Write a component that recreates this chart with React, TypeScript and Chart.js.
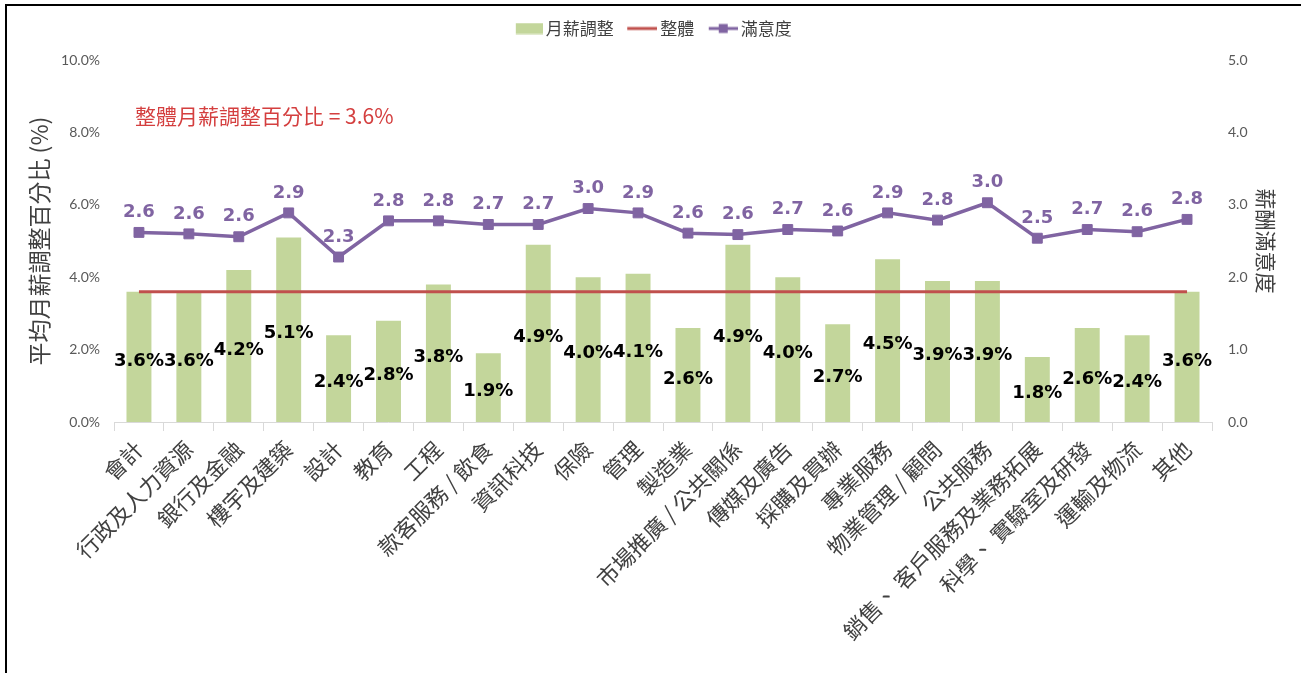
import { useEffect, useRef } from 'react';
import { Chart, registerables } from 'chart.js';

Chart.register(...registerables);

const categories = [
  '會計',
  '行政及人力資源',
  '銀行及金融',
  '樓宇及建築',
  '設計',
  '教育',
  '工程',
  '款客服務 / 飲食',
  '資訊科技',
  '保險',
  '管理',
  '製造業',
  '市場推廣 / 公共關係',
  '傳媒及廣告',
  '採購及買辦',
  '專業服務',
  '物業管理 / 顧問',
  '公共服務',
  '銷售、 客戶服務及業務拓展',
  '科學、 實驗室及研發',
  '運輸及物流',
  '其他',
];

// 月薪調整 (%)
const salaryAdjust = [3.6, 3.6, 4.2, 5.1, 2.4, 2.8, 3.8, 1.9, 4.9, 4.0, 4.1, 2.6, 4.9, 4.0, 2.7, 4.5, 3.9, 3.9, 1.8, 2.6, 2.4, 3.6];

// 整體 (%)
const overallAdjust = 3.6;
const overallLine = [3.6, 3.6, 3.6, 3.6, 3.6, 3.6, 3.6, 3.6, 3.6, 3.6, 3.6, 3.6, 3.6, 3.6, 3.6, 3.6, 3.6, 3.6, 3.6, 3.6, 3.6, 3.6];

// 滿意度 (0-5)
const satisfaction = [2.62, 2.6, 2.56, 2.89, 2.28, 2.78, 2.78, 2.73, 2.73, 2.95, 2.89, 2.61, 2.59, 2.66, 2.64, 2.89, 2.79, 3.03, 2.54, 2.66, 2.63, 2.8];

const legendLabels = ['月薪調整', '整體', '滿意度'];
const leftAxisTitle = '平均月薪調整百分比 (%)';
const rightAxisTitle = '薪酬滿意度';
const annotationLabel = '整體月薪調整百分比';

const GREEN = '#C3D69B';
const RED = '#C0504D';
const PURPLE = '#8064A2';
const CJK = "'Noto Sans CJK TC', 'Noto Sans CJK SC', sans-serif";

function makeIcon(kind: 'bar' | 'line' | 'marker'): HTMLCanvasElement {
  const c = document.createElement('canvas');
  c.width = 37;
  c.height = 12;
  const g = c.getContext('2d')!;
  if (kind === 'bar') {
    g.fillStyle = GREEN;
    g.fillRect(10, 0.5, 27, 11);
  } else if (kind === 'line') {
    g.fillStyle = RED;
    g.fillRect(7, 4.5, 30, 3);
  } else {
    g.fillStyle = PURPLE;
    g.fillRect(8, 4.5, 29, 3);
    g.fillRect(18, 1.5, 9, 9);
  }
  return c;
}

const extrasPlugin = {
  id: 'extras',
  afterDatasetsDraw(chart: any) {
    const ctx = chart.ctx as CanvasRenderingContext2D;
    const area = chart.chartArea;
    ctx.save();
    ctx.textAlign = 'center';
    ctx.textBaseline = 'middle';
    ctx.font = "bold 18px 'DejaVu Sans', sans-serif";
    ctx.fillStyle = '#000000';
    const barMeta = chart.getDatasetMeta(0);
    barMeta.data.forEach((el: any, i: number) => {
      const p = el.getProps(['x', 'y', 'base'], true);
      ctx.fillText(salaryAdjust[i].toFixed(1) + '%', p.x, (p.y + p.base) / 2 + 4);
    });
    ctx.fillStyle = PURPLE;
    const lineMeta = chart.getDatasetMeta(2);
    lineMeta.data.forEach((el: any, i: number) => {
      ctx.fillText(satisfaction[i].toFixed(1), el.x, el.y - 20);
    });
    ctx.textAlign = 'left';
    ctx.font = `21px ${CJK}`;
    ctx.fillStyle = '#D43F3F';
    ctx.fillText(`${annotationLabel} = ${overallAdjust.toFixed(1)}%`, area.left + 21, area.top + 56);
    ctx.restore();
  },
  afterDraw(chart: any) {
    const ctx = chart.ctx as CanvasRenderingContext2D;
    ctx.save();
    ctx.strokeStyle = '#000000';
    ctx.lineWidth = 2;
    ctx.beginPath();
    ctx.moveTo(6, 673);
    ctx.lineTo(6, 5);
    ctx.lineTo(1301, 5);
    ctx.stroke();
    ctx.restore();
  },
};

export default function App() {
  const ref = useRef<HTMLCanvasElement | null>(null);

  useEffect(() => {
    if (!ref.current) return;
    const icons = [makeIcon('bar'), makeIcon('line'), makeIcon('marker')];
    const chart = new Chart(ref.current, {
      type: 'bar',
      data: {
        labels: categories,
        datasets: [
          {
            type: 'bar',
            label: legendLabels[0],
            data: salaryAdjust,
            backgroundColor: GREEN,
            borderWidth: 0,
            categoryPercentage: 1,
            barPercentage: 0.5,
            yAxisID: 'y',
            order: 3,
          },
          {
            type: 'line',
            label: legendLabels[1],
            data: overallLine,
            borderColor: RED,
            borderWidth: 3,
            pointRadius: 0,
            yAxisID: 'y',
            order: 2,
          },
          {
            type: 'line',
            label: legendLabels[2],
            data: satisfaction,
            borderColor: PURPLE,
            backgroundColor: PURPLE,
            borderWidth: 3.5,
            pointStyle: 'rect',
            pointRadius: 7,
            pointBorderWidth: 1,
            pointBorderColor: PURPLE,
            pointBackgroundColor: PURPLE,
            yAxisID: 'y1',
            order: 1,
          },
        ] as any,
      },
      options: {
        animation: false,
        responsive: false,
        devicePixelRatio: 1,
        layout: { padding: { top: 8, left: 20, right: 18, bottom: 0 } },
        plugins: {
          tooltip: { enabled: false },
          title: {
            display: true,
            text: '',
            weight: 500,
            font: { size: 1 },
            padding: { top: 0, bottom: 12 },
          } as any,
          legend: {
            display: true,
            position: 'top',
            labels: {
              usePointStyle: true,
              pointStyleWidth: 26,
              boxHeight: 17,
              padding: 12,
              color: '#404040',
              font: { family: CJK, size: 17 },
              generateLabels: () =>
                legendLabels.map((t, i) => ({
                  text: t,
                  pointStyle: icons[i],
                  fillStyle: 'rgba(0,0,0,0)',
                  strokeStyle: 'rgba(0,0,0,0)',
                  lineWidth: 0,
                  hidden: false,
                  datasetIndex: i,
                  fontColor: '#404040',
                })) as any,
            },
          },
        },
        scales: {
          x: {
            grid: {
              display: true,
              drawOnChartArea: false,
              drawTicks: true,
              tickLength: 9,
              color: '#D9D9D9',
              offset: true,
            },
            border: { display: true, color: '#D9D9D9' },
            ticks: {
              autoSkip: false,
              maxRotation: 45,
              minRotation: 45,
              padding: 5,
              color: '#404040',
              font: { family: CJK, size: 22 },
            },
            afterFit: (scale: any) => {
              scale.height = 251;
            },
          },
          y: {
            position: 'left',
            min: 0,
            max: 10,
            grid: { display: false, drawTicks: false },
            border: { display: false },
            ticks: {
              stepSize: 2,
              padding: 14,
              color: '#595959',
              font: { family: "'Lato', sans-serif", size: 14 },
              callback: (v: any) => Number(v).toFixed(1) + '%',
            },
            title: {
              display: true,
              text: leftAxisTitle,
              color: '#404040',
              font: { family: CJK, size: 23 },
              padding: { top: 5, bottom: 0 },
            },
            afterFit: (scale: any) => {
              scale.width = 94;
            },
          },
          y1: {
            position: 'right',
            min: 0,
            max: 5,
            grid: { display: false, drawTicks: false },
            border: { display: false },
            ticks: {
              stepSize: 1,
              padding: 16,
              color: '#595959',
              font: { family: "'Lato', sans-serif", size: 14 },
              callback: (v: any) => Number(v).toFixed(1),
            },
            title: {
              display: true,
              text: rightAxisTitle,
              color: '#404040',
              font: { family: CJK, size: 21 },
              padding: { top: 4, bottom: 0 },
            },
            afterFit: (scale: any) => {
              scale.width = 71;
            },
          },
        },
      } as any,
      plugins: [extrasPlugin],
    });
    return () => chart.destroy();
  }, []);

  return (
    <div style={{ position: 'absolute', left: 0, top: 0, width: 1301, height: 673, background: '#ffffff' }}>
      <canvas ref={ref} width={1301} height={673} style={{ display: 'block', width: 1301, height: 673 }} />
    </div>
  );
}
